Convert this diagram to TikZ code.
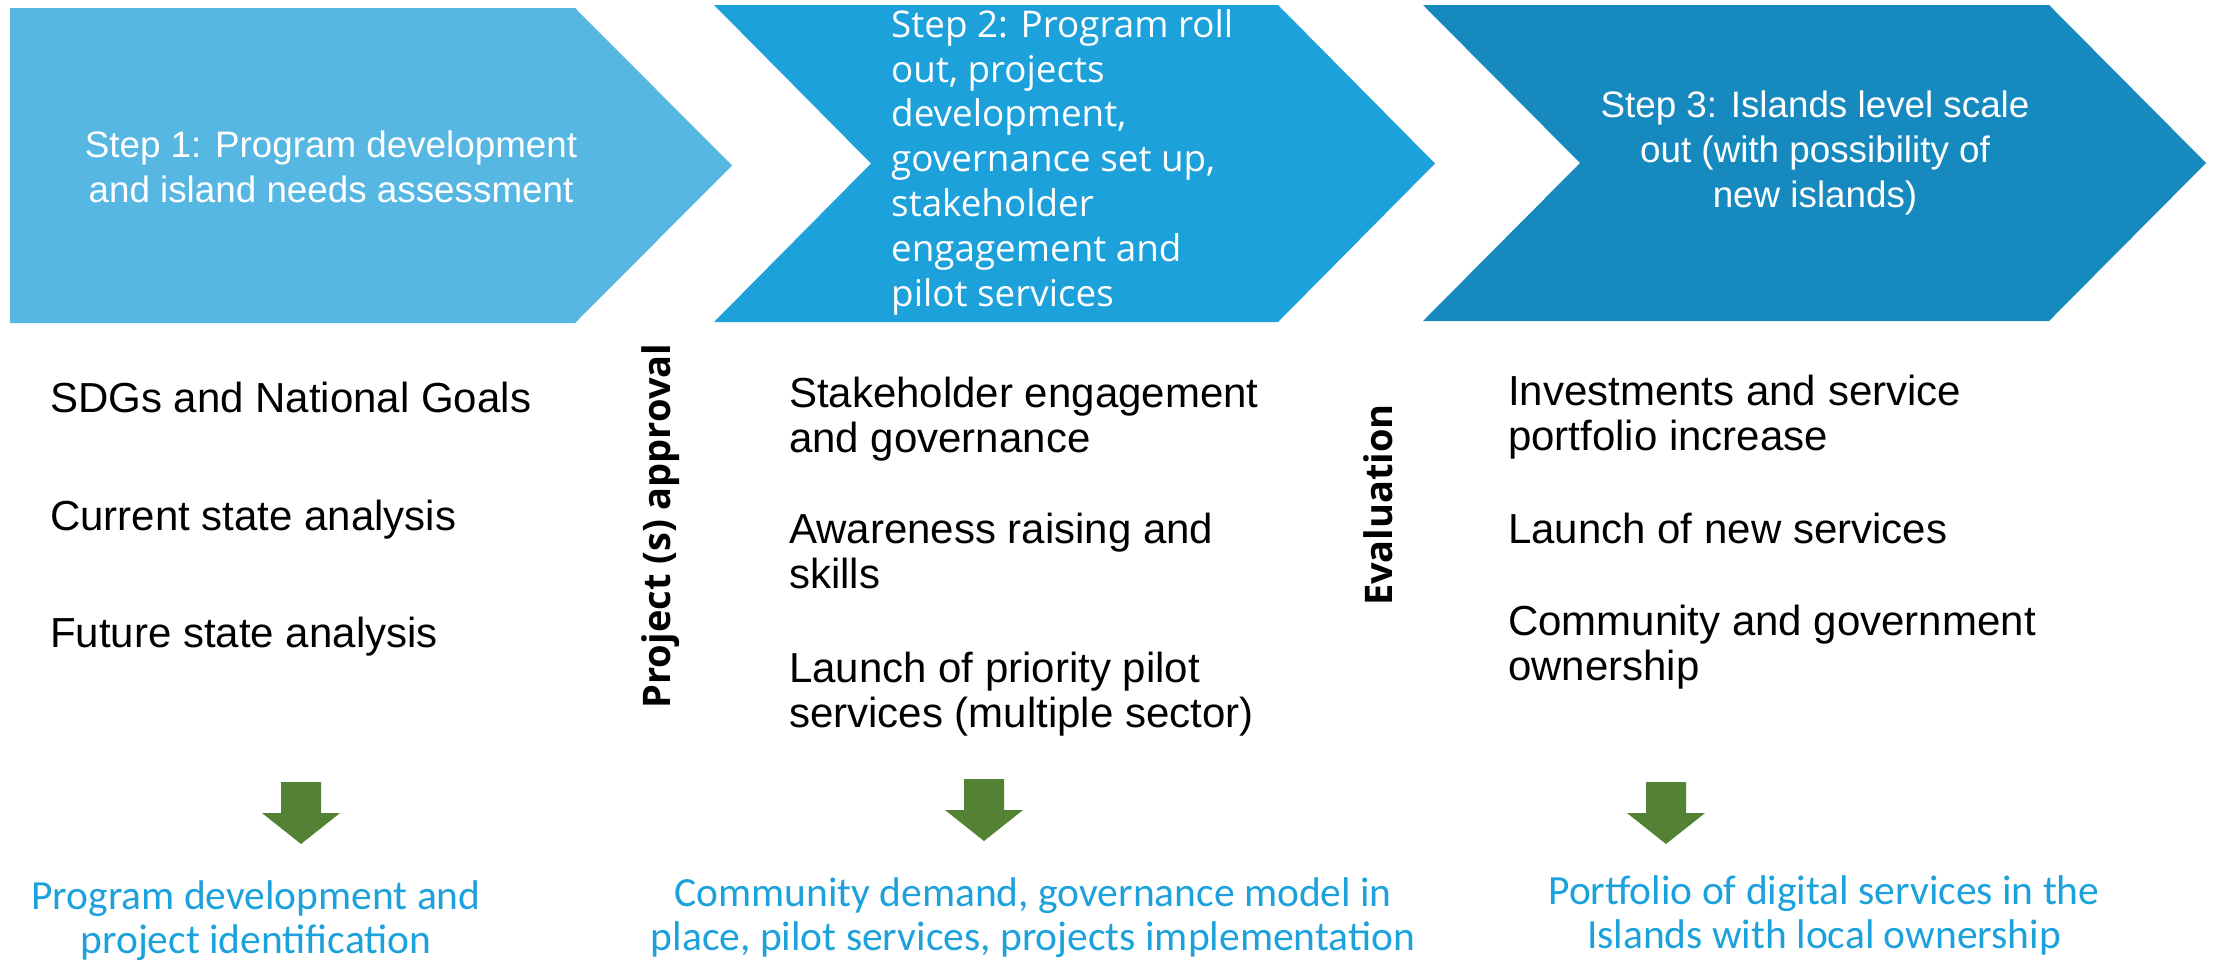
\documentclass[tikz,border=0pt]{standalone}
\usepackage{fontspec}
\setmainfont{Liberation Sans}
\newfontfamily\opensans{Open Sans}
\newfontfamily\carlito{Carlito}
\definecolor{cOne}{HTML}{56B7E3}
\definecolor{cTwo}{HTML}{1DA1DB}
\definecolor{cThree}{HTML}{1689BF}
\definecolor{outblue}{HTML}{1BA1DB}
\definecolor{arrowgreen}{HTML}{548235}
\tikzset{
  chevone/.style={fill=cOne},
  chevtwo/.style={fill=cTwo},
  chevthree/.style={fill=cThree},
  steptext/.style={text=white, inner sep=0pt, font=\fontsize{36.8}{44.8}\selectfont},
  itemtext/.style={text=black, inner sep=0pt, align=left, anchor=base west, font=\fontsize{42}{45}\selectfont},
  gate/.style={rotate=90, anchor=base, inner sep=0pt, font=\opensans\bfseries\fontsize{38}{40}\selectfont},
  outcome/.style={text=outblue, inner sep=0pt, align=center, anchor=base, font=\carlito\fontsize{41.5}{43.5}\selectfont},
  downarrow/.pic={\fill[arrowgreen] (-20,0) -- (20,0) -- (20,31) -- (39,31) -- (0,62) -- (-39,31) -- (-20,31) -- cycle;}
}
\begin{document}
\begin{tikzpicture}[x=1pt,y=-1pt]
\path[use as bounding box, fill=white] (0,0) rectangle (2215,961);
% chevrons
\fill[chevone] (10,8) -- (575,8) -- (732,165.5) -- (575,323) -- (10,323) -- cycle;
\fill[chevtwo] (714,5) -- (1278,5) -- (1435,163.5) -- (1278,322) -- (714,322) -- (871,163.5) -- cycle;
\fill[chevthree] (1423,5) -- (2049,5) -- (2206,163) -- (2049,321) -- (1423,321) -- (1580,163) -- cycle;
% step texts (anchor = baseline of last line)
\node[steptext, align=center, anchor=base] (s1) at (331,202) {Step 1: Program development\\and island needs assessment};
\node[steptext, font=\opensans\fontsize{36.8}{44.8}\selectfont, align=left, anchor=base west] (s2) at (891,306) {Step 2: Program roll\\out, projects\\development,\\governance set up,\\stakeholder\\engagement and\\pilot services};
\node[steptext, align=center, anchor=base] (s3) at (1815,207) {Step 3: Islands level scale\\out (with possibility of\\new islands)};
% items
\node[itemtext] (a1) at (50,412) {SDGs and National Goals};
\node[itemtext] (a2) at (50,530) {Current state analysis};
\node[itemtext] (a3) at (50,647) {Future state analysis};
\node[itemtext] (b1) at (789,452) {Stakeholder engagement\\and governance};
\node[itemtext] (b2) at (789,588) {Awareness raising and\\skills};
\node[itemtext] (b3) at (789,727) {Launch of priority pilot\\services (multiple sector)};
\node[itemtext] (c1) at (1508,450) {Investments and service\\portfolio increase};
\node[itemtext] (c2) at (1508,543) {Launch of new services};
\node[itemtext] (c3) at (1508,680) {Community and government\\ownership};
% gates
\node[gate] (g1) at (670,526) {Project (s) approval};
\node[gate] (g2) at (1392,505) {Evaluation};
% arrows
\pic at (301,782) {downarrow};
\pic at (984,779) {downarrow};
\pic at (1666,782) {downarrow};
% outcomes
\node[outcome] (o1) at (256,953) {Program development and\\project identification};
\node[outcome] (o2) at (1033,950) {Community demand, governance model in\\place, pilot services, projects implementation};
\node[outcome] (o3) at (1824,948) {Portfolio of digital services in the\\Islands with local ownership};
\end{tikzpicture}
\end{document}
